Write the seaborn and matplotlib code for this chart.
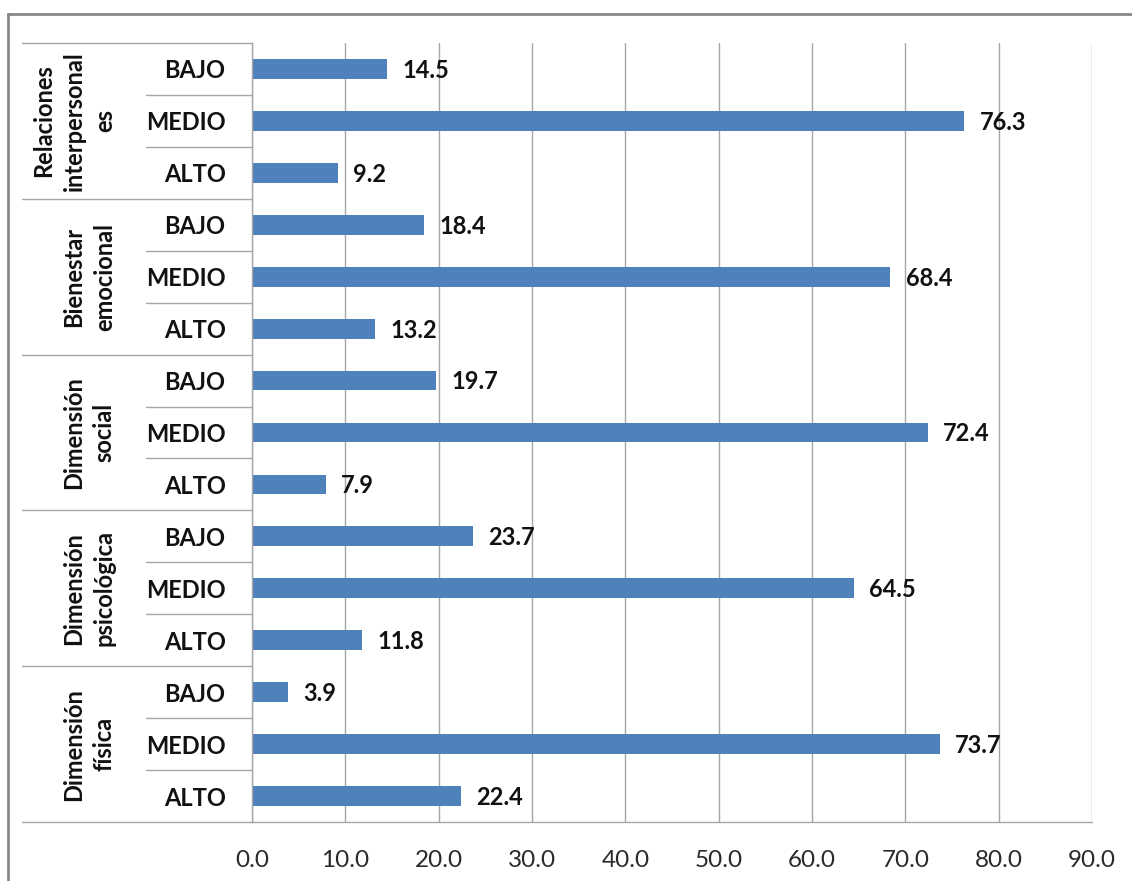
import matplotlib
matplotlib.use("Agg")
import matplotlib.pyplot as plt
import matplotlib.transforms as mtransforms
from matplotlib.lines import Line2D
import seaborn as sns
import pandas as pd

# Dimensions (top to bottom) and their levels
groups = [
    "Relaciones\ninterpersonal\nes",
    "Bienestar\nemocional",
    "Dimensión\nsocial",
    "Dimensión\npsicológica",
    "Dimensión\nfísica",
]
levels = ["BAJO", "MEDIO", "ALTO"]

relaciones = [14.5, 76.3, 9.2]
bienestar = [18.4, 68.4, 13.2]
social = [19.7, 72.4, 7.9]
psicologica = [23.7, 64.5, 11.8]
fisica = [3.9, 73.7, 22.4]
series = [relaciones, bienestar, social, psicologica, fisica]

x_ticks = [0, 10, 20, 30, 40, 50, 60, 70, 80, 90]

rows = []
for gi, (g, vals) in enumerate(zip(groups, series)):
    for lvl, v in zip(levels, vals):
        rows.append({"key": f"{gi}-{lvl}", "grupo": g, "nivel": lvl, "valor": v})
df = pd.DataFrame(rows)

sns.set_theme(style="white")
plt.rcParams["font.family"] = ["Lato", "DejaVu Sans"]

W, H = 1132, 881
fig = plt.figure(figsize=(W / 100, H / 100), dpi=100)
fig.patch.set_facecolor("white")

left, right, top, bottom = 252, 1092, 43, 822
ax = fig.add_axes([left / W, 1 - bottom / H, (right - left) / W, (bottom - top) / H])

bar_color = "#4F81BD"
grid_color = "#A6A6A6"

sns.barplot(data=df, y="key", x="valor", orient="h", color=bar_color,
            width=0.38, saturation=1, ax=ax, edgecolor="none")

ax.set_xlim(0, 90)
ax.set_ylim(len(df) - 0.5, -0.5)
ax.set_xticks(x_ticks)
ax.set_xticklabels([f"{t:.1f}" for t in x_ticks], fontsize=17.5, color="#2a2a2a")
ax.set_yticks(range(len(df)))
ax.set_yticklabels(df["nivel"], fontsize=17, fontweight="bold", color="#111111")
ax.tick_params(axis="y", length=0, pad=19)
ax.tick_params(axis="x", length=8, width=1, color=grid_color, pad=12, direction="out")
ax.set_xlabel("")
ax.set_ylabel("")

ax.grid(axis="x", color=grid_color, linewidth=1)
ax.set_axisbelow(True)
for s in ["top", "right"]:
    ax.spines[s].set_visible(False)
for s in ["left", "bottom"]:
    ax.spines[s].set_color(grid_color)
    ax.spines[s].set_linewidth(1)

# Value labels next to each bar
for i, v in enumerate(df["valor"]):
    ax.annotate(f"{v:.1f}", xy=(v, i), xytext=(11, -1), textcoords="offset points",
                va="center", ha="left", fontsize=17, fontweight="bold", color="#111111")

# Category separators to the left of the axis
trans = mtransforms.blended_transform_factory(ax.transAxes, ax.transData)
span = right - left
group_x0 = -(left - 22) / span
level_x0 = -(left - 146) / span
for gi in range(len(groups) + 1):
    y = gi * 3 - 0.5
    ax.plot([group_x0, 0], [y, y], transform=trans, color=grid_color, lw=1, clip_on=False)
for gi in range(len(groups)):
    for k in (1, 2):
        y = gi * 3 + k - 0.5
        ax.plot([level_x0, 0], [y, y], transform=trans, color=grid_color, lw=1, clip_on=False)

# Rotated dimension names
for gi, g in enumerate(groups):
    cx = 74 if g.count("\n") == 2 else 89
    ax.text(-(left - cx) / span, gi * 3 + 1, g, transform=trans, rotation=90,
            ha="center", va="center", multialignment="center", fontsize=17,
            fontweight="bold", color="#111111", linespacing=1.4)

# Outer frame
fig.add_artist(Line2D([8 / W, 1], [1 - 14 / H, 1 - 14 / H], transform=fig.transFigure,
                      color="#888888", lw=2))
fig.add_artist(Line2D([8 / W, 8 / W], [0, 1 - 14 / H], transform=fig.transFigure,
                      color="#888888", lw=2))

fig.savefig("out.png", dpi=100)
